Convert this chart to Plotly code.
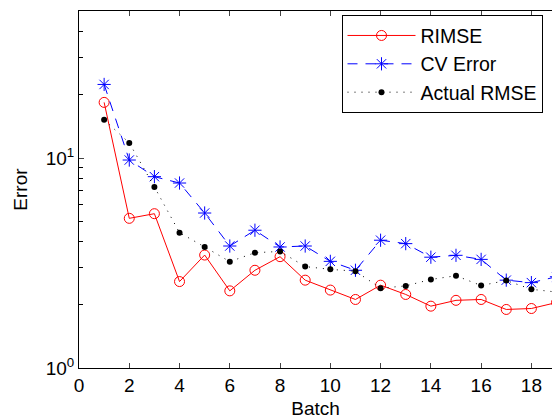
import plotly.graph_objects as go

batch = list(range(1, 21))
rimse = [18.4, 5.16, 5.43, 2.58, 3.45, 2.33, 2.92, 3.39, 2.62, 2.35, 2.12, 2.48, 2.24, 1.97, 2.10, 2.12, 1.90, 1.92, 2.05, 2.0]
cv_error = [22.4, 9.78, 8.15, 7.60, 5.47, 3.81, 4.53, 3.77, 3.81, 3.22, 2.92, 4.06, 3.91, 3.37, 3.44, 3.29, 2.62, 2.55, 2.72, 2.6]
actual_rmse = [15.2, 11.8, 7.28, 4.41, 3.77, 3.21, 3.54, 3.59, 3.04, 2.95, 2.89, 2.40, 2.46, 2.64, 2.75, 2.47, 2.61, 2.37, 2.30, 2.3]

x_ticks = list(range(0, 19, 2))
y_ticks = [1, 10]
y_ticktext = ["10<sup>0</sup>", "10<sup>1</sup>"]
y_minor = [2, 3, 4, 5, 6, 7, 8, 9, 20, 30, 40]

FONT = "Liberation Sans, Arial, Helvetica, sans-serif"

fig = go.Figure()
fig.add_trace(go.Scatter(
    x=batch, y=rimse, name="RIMSE", mode="lines+markers",
    line=dict(color="red", width=1),
    marker=dict(symbol="circle-open", size=10, color="red", line=dict(color="red", width=1)),
))
fig.add_trace(go.Scatter(
    x=batch, y=cv_error, name="CV Error", mode="lines+markers",
    line=dict(color="blue", width=1, dash="10px,8px"),
    marker=dict(symbol="asterisk-open", size=11, color="blue", line=dict(color="blue", width=1)),
))
fig.add_trace(go.Scatter(
    x=batch, y=actual_rmse, name="Actual RMSE", mode="lines+markers",
    line=dict(color="black", width=1, dash="1px,6px"),
    marker=dict(symbol="circle", size=6, color="black"),
))

fig.update_layout(
    width=552, height=419,
    margin=dict(l=79, r=0, t=11, b=51),
    paper_bgcolor="white", plot_bgcolor="white",
    font=dict(family=FONT, size=19, color="black"),
    showlegend=True,
    legend=dict(
        x=0.555, xanchor="left", y=0.988, yanchor="top",
        bordercolor="black", borderwidth=1, bgcolor="white",
        font=dict(size=19.5), itemwidth=68, tracegroupgap=0,
    ),
)
fig.update_xaxes(
    range=[0, 18.82], tickvals=x_ticks, ticks="inside", ticklen=5,
    showline=True, linecolor="black", linewidth=1, mirror="ticks",
    showgrid=False, zeroline=False, automargin=False,
    title=dict(text="Batch", standoff=11, font=dict(size=19)),
    tickfont=dict(size=19),
)
fig.update_yaxes(
    type="log", range=[0, 1.7], tickvals=y_ticks, ticktext=y_ticktext,
    ticks="inside", ticklen=5,
    minor=dict(tickvals=y_minor, ticks="inside", ticklen=4, tickcolor="black", showgrid=False),
    showline=True, linecolor="black", linewidth=1, mirror=False,
    showgrid=False, zeroline=False, automargin=False,
    title=dict(text="Error", standoff=13, font=dict(size=19)),
    tickfont=dict(size=19),
)

fig.write_html(
    "out.html",
    config={"displayModeBar": False},
    post_script="document.body.style.margin='0';document.body.style.overflow='hidden';",
)
